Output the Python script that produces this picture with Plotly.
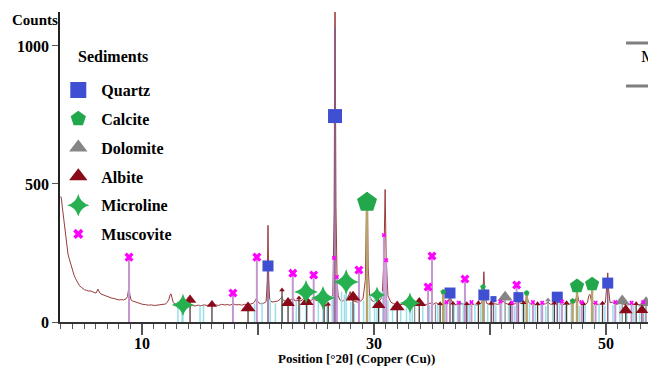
import plotly.graph_objects as go

# ---- measured diffraction pattern: position (°2θ) and intensity (counts) ----
two_theta = [
    3.00, 3.06, 3.12, 3.20, 3.28, 3.36, 3.45, 3.53, 3.62, 3.72, 3.82, 3.92, 4.02, 4.14, 4.26,
    4.38, 4.50, 4.62, 4.76, 4.90, 5.04, 5.20, 5.36, 5.52, 5.70, 5.88, 6.03, 6.12, 6.21, 6.28,
    6.38, 6.55, 6.72, 6.90, 7.08, 7.24, 7.42, 7.60, 7.80, 8.00, 8.20, 8.40, 8.60, 8.75, 8.84,
    8.89, 8.95, 9.05, 9.20, 9.40, 9.60, 9.83, 10.05, 10.30, 10.55, 10.80, 11.05, 11.30, 11.55,
    11.80, 12.00, 12.15, 12.30, 12.42, 12.50, 12.58, 12.70, 12.90, 13.10, 13.35, 13.60, 13.85,
    14.10, 14.35, 14.60, 14.85, 15.10, 15.35, 15.60, 15.85, 16.10, 16.35, 16.60, 16.85, 17.10,
    17.35, 17.60, 17.85, 18.10, 18.35, 18.60, 18.85, 19.10, 19.35, 19.60, 19.80, 19.88, 19.96,
    20.20, 20.50, 20.70, 20.80, 20.86, 20.92, 21.00, 21.20, 21.45, 21.70, 21.90, 22.05, 22.20,
    22.45, 22.70, 22.90, 23.05, 23.20, 23.45, 23.70, 23.95, 24.15, 24.30, 24.55, 24.80, 25.00,
    25.25, 25.50, 25.70, 25.90, 26.10, 26.30, 26.45, 26.56, 26.64, 26.72, 26.82, 26.92, 27.05,
    27.30, 27.55, 27.75, 27.95, 28.10, 28.35, 28.60, 28.85, 29.05, 29.25, 29.36, 29.42, 29.50,
    29.62, 29.80, 30.00, 30.25, 30.45, 30.70, 30.85, 30.96, 31.05, 31.20, 31.45, 31.70, 31.95,
    32.20, 32.45, 32.70, 32.95, 33.20, 33.45, 33.65, 33.90, 34.15, 34.40, 34.65, 34.90, 35.10,
    35.35, 35.60, 35.85, 36.05, 36.30, 36.45, 36.55, 36.65, 36.85, 37.10, 37.35, 37.60, 37.85,
    38.10, 38.35, 38.60, 38.85, 39.10, 39.30, 39.40, 39.47, 39.54, 39.70, 39.95, 40.20, 40.40,
    40.65, 40.90, 41.10, 41.30, 41.55, 41.80, 42.05, 42.30, 42.45, 42.60, 42.85, 43.05, 43.18,
    43.30, 43.55, 43.80, 44.05, 44.30, 44.55, 44.80, 45.00, 45.20, 45.45, 45.65, 45.80, 45.95,
    46.20, 46.45, 46.70, 46.95, 47.15, 47.30, 47.45, 47.55, 47.65, 47.90, 48.15, 48.40, 48.52,
    48.62, 48.75, 49.00, 49.25, 49.50, 49.75, 49.95, 50.08, 50.15, 50.22, 50.35, 50.55, 50.80,
    51.05, 51.30, 51.55, 51.80, 52.05, 52.30, 52.55, 52.80, 53.05, 53.30, 53.62,
]
counts = [
    455, 445, 420, 392, 352, 318, 290, 262, 246, 230, 214, 200, 184, 170, 158,
    148, 140, 131, 126, 121, 117, 115, 112, 113, 109, 107, 105, 110, 119, 112,
    104, 100, 97, 94, 90, 88, 86, 85, 83, 80, 81, 80, 83, 92, 118,
    125, 100, 80, 76, 73, 69, 66, 64, 63, 61, 62, 60, 61, 62,
    63, 65, 70, 80, 98, 102, 88, 70, 64, 62, 61, 63, 60,
    58, 60, 58, 61, 59, 62, 60, 63, 61, 62, 60, 64, 62,
    63, 61, 66, 62, 63, 61, 64, 63, 65, 68, 80, 88, 74,
    66, 68, 74, 150, 350, 160, 82, 72, 74, 76, 82, 90, 78,
    74, 78, 82, 86, 76, 78, 76, 84, 92, 80, 78, 84, 78,
    80, 86, 92, 84, 80, 84, 100, 400, 1250, 420, 140, 95, 80,
    76, 86, 90, 110, 84, 74, 72, 76, 84, 150, 440, 470, 200,
    95, 78, 74, 80, 76, 90, 220, 480, 230, 95, 72, 66, 64,
    62, 64, 62, 64, 63, 68, 64, 62, 64, 62, 66, 68, 64,
    70, 64, 62, 68, 66, 80, 112, 80, 64, 62, 70, 66, 62,
    63, 62, 64, 62, 64, 70, 120, 182, 110, 68, 64, 62, 66,
    64, 66, 76, 68, 64, 62, 64, 70, 92, 68, 64, 72, 100,
    72, 64, 62, 63, 62, 64, 66, 72, 64, 66, 70, 86, 68,
    62, 64, 62, 66, 76, 70, 90, 98, 76, 64, 62, 70, 96,
    100, 74, 64, 63, 64, 66, 70, 130, 178, 120, 70, 72, 64,
    66, 70, 64, 62, 63, 62, 64, 62, 64, 63, 62,
]

# ---- reference phases: line position, marker height, stick height, marker size ----
quartz_pos = [20.86, 26.64, 36.55, 39.47, 40.30, 42.45, 45.80, 50.15]
quartz_cnt = [203, 746, 105, 98, 83, 90, 90, 141]
quartz_stick = [203, 1068, 105, 98, 83, 90, 90, 141]
quartz_size = [11, 14, 11, 11, 6, 10, 11, 11]

calcite_pos = [29.40, 35.97, 39.40, 43.16, 47.12, 47.50, 48.80]
calcite_cnt = [434, 109, 127, 105, 76, 130, 137]
calcite_size = [21, 6, 6, 6, 6, 15, 15]

dolomite_pos = [33.50, 35.30, 37.40, 41.30, 45.00, 51.40, 53.45]
dolomite_cnt = [66, 64, 68, 90, 80, 76, 70]
dolomite_size = [0, 0, 5, 13, 5, 13, 13]

albite_pos = [14.14, 16.03, 19.14, 22.59, 24.20, 28.19, 30.40, 32.00, 33.90, 51.70, 53.10,
              22.07, 23.53, 25.70, 26.05, 35.70, 36.80, 38.00, 39.00, 40.10, 41.75, 42.90,
              44.10, 45.55, 46.60, 48.05, 49.70, 52.60]
albite_cnt = [80, 63, 51, 69, 72, 90, 62, 54, 69, 43, 43,
              116, 87, 62, 64, 66, 68, 66, 70, 68, 66, 70,
              66, 68, 70, 66, 68, 66]
albite_size = [11, 9, 13, 12, 12, 13, 12, 13, 12, 12, 11,
               5, 5, 5, 5, 5, 5, 5, 5, 5, 5, 5,
               5, 5, 5, 5, 5, 5]

microline_pos = [13.53, 24.14, 25.60, 27.60, 30.26, 33.10]
microline_cnt = [62, 109, 87, 145, 98, 69]
microline_size = [16, 17, 17, 18, 12, 15]

# minor microline reflections (sticks only)
microline_minor_pos = [
    13.10, 13.45, 15.00, 15.30, 19.70, 20.35, 21.05, 21.50, 22.10, 23.30, 23.60, 25.20,
    25.95, 26.40, 27.20, 27.45, 28.00, 28.30, 29.10, 29.65, 30.05, 30.75, 31.20, 31.60,
    32.30, 32.80, 33.30, 34.20, 34.80, 35.50, 36.10, 36.90, 37.20, 37.70, 38.20, 38.70,
    39.20, 39.80, 40.50, 41.00, 41.60, 42.10, 42.80, 43.40, 43.90, 44.40, 44.80, 45.40,
    46.00, 46.50, 47.00, 47.70, 48.20, 48.90, 49.40, 49.90, 50.60, 51.20, 51.80, 52.40,
    52.90, 53.40,
]
microline_minor_cnt = [
    70, 75, 60, 58, 66, 72, 85, 68, 92, 75, 70, 80,
    88, 95, 110, 100, 72, 65, 78, 95, 108, 112, 80, 60,
    55, 62, 58, 64, 60, 66, 72, 68, 58, 70, 62, 66,
    70, 64, 60, 68, 62, 58, 70, 66, 60, 64, 58, 62,
    70, 60, 66, 58, 64, 60, 66, 58, 62, 60, 66, 58,
    62, 56,
]

muscovite_pos = [8.88, 17.84, 19.90, 23.00, 24.80, 28.70, 34.66, 35.00, 37.84, 42.30,
                 26.55, 26.80, 30.85, 31.05, 36.25, 37.30, 38.40, 40.90, 41.90, 43.70,
                 44.50, 46.20, 47.90, 49.10, 50.80, 52.20, 53.20]
muscovite_cnt = [235, 105, 235, 177, 170, 188, 127, 239, 156, 134,
                 232, 163, 315, 224, 72, 70, 72, 74, 70, 72,
                 70, 74, 72, 70, 72, 70, 72]
muscovite_size = [8, 8, 8, 8, 8, 8, 8, 8, 8, 8,
                  4, 4, 4, 4, 4, 4, 4, 4, 4, 4,
                  4, 4, 4, 4, 4, 4, 4]

SERIF = "Liberation Serif"


def stick_xy(pos, height):
    xs, ys = [], []
    for p, h in zip(pos, height):
        xs += [p, p, None]
        ys += [0, h, None]
    return xs, ys


fig = go.Figure()

# measured pattern
fig.add_trace(go.Scatter(x=two_theta, y=counts, mode="lines",
                         line=dict(color="#973b3b", width=1), showlegend=False,
                         hoverinfo="skip"))

# reference sticks
stick_sets = [
    (microline_minor_pos, microline_minor_cnt, "#9adfe8", 1.5),
    (microline_pos, microline_cnt, "#9adfe8", 1.5),
    (albite_pos, albite_cnt, "#4f3a3a", 1.3),
    (dolomite_pos, dolomite_cnt, "#8e8e8e", 1.3),
    (muscovite_pos, muscovite_cnt, "#c597d0", 2),
    (quartz_pos, quartz_stick, "#8a5c8c", 1.5),
    (calcite_pos, calcite_cnt, "#b7a46c", 2.5),
]
for pos, h, col, w in stick_sets:
    sx, sy = stick_xy(pos, h)
    fig.add_trace(go.Scatter(x=sx, y=sy, mode="lines", line=dict(color=col, width=w),
                             showlegend=False, hoverinfo="skip"))

# phase markers
phases = [
    ("Quartz", quartz_pos, quartz_cnt, quartz_size, "square", "#3f4fd1", 16),
    ("Calcite", calcite_pos, calcite_cnt, calcite_size, "pentagon", "#22a84b", 16),
    ("Dolomite", dolomite_pos, dolomite_cnt, dolomite_size, "triangle-up", "#858585", 16),
    ("Albite", albite_pos, albite_cnt, albite_size, "triangle-up", "#8b0a1a", 16),
    ("Microline", microline_pos, microline_cnt, microline_size, "star-diamond", "#27b04f", 16),
    ("Muscovite", muscovite_pos, muscovite_cnt, muscovite_size, "x", "#ff00ff", 9),
]
for name, pos, cnt, size, sym, col, legsize in phases:
    fig.add_trace(go.Scatter(x=pos, y=cnt, mode="markers", name=name, legendgroup=name,
                             marker=dict(symbol=sym, size=size, color=col, opacity=1,
                                         line=dict(width=0)),
                             showlegend=False))
    fig.add_trace(go.Scatter(x=[None], y=[None], mode="markers", name=name, legendgroup=name,
                             marker=dict(symbol=sym, size=legsize, color=col, opacity=1,
                                         line=dict(width=0)),
                             showlegend=True))

bold = dict(family=SERIF, color="black", weight="bold")

fig.update_layout(
    width=648, height=370,
    margin=dict(l=60, r=0, t=12, b=48),
    paper_bgcolor="white", plot_bgcolor="white",
    font=dict(family=SERIF, color="black"),
    showlegend=True,
    legend=dict(x=-0.008, xanchor="left", y=0.803, yanchor="top",
                bgcolor="rgba(0,0,0,0)", tracegroupgap=5, itemwidth=36,
                font=dict(size=16, **bold), traceorder="grouped"),
    xaxis=dict(range=[2.93, 53.62], showgrid=False, zeroline=False,
               showline=True, linecolor="#333333", linewidth=1.5,
               tickmode="array", tickvals=[10, 20, 30, 40, 50],
               ticktext=["10", "", "30", "", "50"],
               ticks="outside", ticklen=11, tickwidth=1.5, tickcolor="#555555",
               ticklabelstandoff=-5,
               tickfont=dict(size=16, **bold),
               minor=dict(tickmode="linear", tick0=0, dtick=1, ticks="outside",
                          ticklen=5, tickwidth=1, tickcolor="#555555")),
    yaxis=dict(range=[0, 1123], showgrid=False, zeroline=False,
               showline=True, linecolor="#222222", linewidth=1.5,
               tickmode="array", tickvals=[0, 500, 1000],
               ticks="outside", ticklen=6, tickwidth=1, tickcolor="#555555",
               tickfont=dict(size=16, **bold)),
    annotations=[
        dict(text="Counts", xref="paper", yref="paper", x=-0.085, y=0.975,
             xanchor="left", yanchor="middle", showarrow=False, font=dict(size=15, **bold)),
        dict(text="Sediments", xref="paper", yref="paper", x=0.027, y=0.855,
             xanchor="left", yanchor="middle", showarrow=False, font=dict(size=16, **bold)),
        dict(text="Position [°2θ] (Copper (Cu))", xref="paper", yref="paper",
             x=0.505, y=-0.118, xanchor="center", yanchor="middle", showarrow=False,
             font=dict(size=13, **bold)),
        dict(text="M", xref="paper", yref="paper", x=0.984, y=0.855,
             xanchor="left", yanchor="middle", showarrow=False,
             font=dict(size=17, family=SERIF, color="black")),
    ],
    shapes=[
        dict(type="line", xref="paper", yref="paper", x0=0.9626, x1=1.05, y0=0.9, y1=0.9,
             line=dict(color="#7f7f7f", width=3)),
        dict(type="line", xref="paper", yref="paper", x0=0.9626, x1=1.05, y0=0.761, y1=0.761,
             line=dict(color="#7f7f7f", width=3)),
    ],
)

fig.write_html("out.html")
